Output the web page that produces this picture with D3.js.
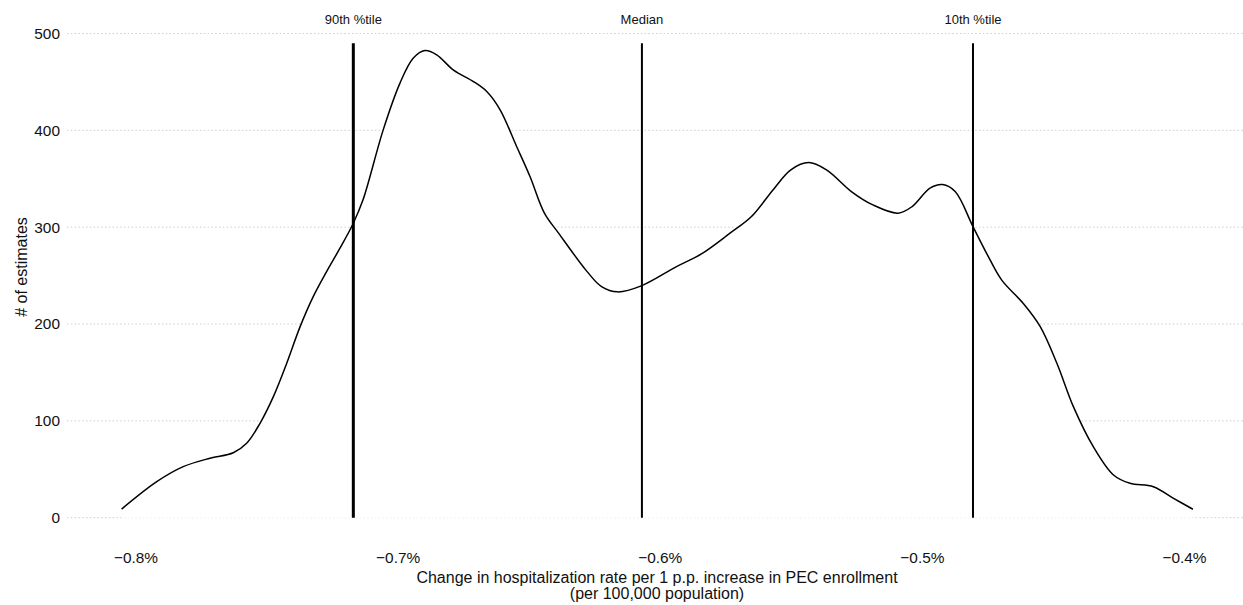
<!DOCTYPE html>
<html>
<head>
<meta charset="utf-8">
<script src="https://cdn.jsdelivr.net/npm/d3@7"></script>
<style>
  html, body { margin: 0; padding: 0; background: #fff; }
  svg { display: block; font-family: "Liberation Sans", Arial, Helvetica, sans-serif; }
</style>
</head>
<body>
<svg id="chart" width="1243" height="605"></svg>
<script>
// Estimate distribution (change in hospitalization rate, %), smoothed density scaled to counts
const densityX = [
  -0.8053, -0.7919, -0.7818, -0.7716, -0.7627, -0.7576, -0.7525, -0.7474, -0.7423, -0.7372,
  -0.7322, -0.7271, -0.7220, -0.7169, -0.7132, -0.7055, -0.6991, -0.6940, -0.6896, -0.6851,
  -0.6788, -0.6711, -0.6660, -0.6609, -0.6546, -0.6495, -0.6440, -0.6386, -0.6277, -0.6222,
  -0.6161, -0.6068, -0.5936, -0.5841, -0.5732, -0.5650, -0.5568, -0.5500, -0.5432, -0.5364,
  -0.5269, -0.5187, -0.5091, -0.5037, -0.4969, -0.4921, -0.4873, -0.4805, -0.4751, -0.4696,
  -0.4614, -0.4549, -0.4485, -0.4422, -0.4346, -0.4269, -0.4206, -0.4117, -0.4040, -0.3966
];
const densityY = [
    8.9,  37.2,  52.7,  61.4,  67.1,  76.9,  97.5, 125.0, 159.5, 197.3,
  228.3, 254.1, 278.3, 304.1, 328.2, 400.5, 448.8, 474.6, 482.4, 478.0,
  462.5, 450.4, 440.1, 421.2, 383.3, 352.3, 314.5, 293.8, 254.1, 238.6,
  233.2, 239.7, 259.3, 272.4, 293.8, 311.0, 338.5, 359.2, 366.7, 359.2,
  336.8, 323.0, 314.5, 321.3, 340.3, 344.0, 336.8, 300.6, 272.0, 245.6,
  221.5, 197.5, 159.5, 114.7,  73.3,  44.1,  35.5,  32.0,  20.0,   8.7
];

// Reference percentiles of the estimates
const percentileNames  = ["90th %tile", "Median", "10th %tile"];
const percentileValues = [-0.7169, -0.6068, -0.4805];
const percentileWidths = [3, 2, 2];
const percentileTop = 490;

// Axis ticks
const xTicks = [-0.8, -0.7, -0.6, -0.5, -0.4];
const yTicks = [0, 100, 200, 300, 400, 500];

const xTitle = ["Change in hospitalization rate per 1 p.p. increase in PEC enrollment",
                "(per 100,000 population)"];
const yTitle = "# of estimates";

const svg = d3.select("#chart");
const x = d3.scaleLinear().domain([-0.8, -0.4]).range([135.5, 1184]);
const y = d3.scaleLinear().domain([0, 500]).range([517.7, 33.5]);

// horizontal grid
svg.append("g")
  .selectAll("line")
  .data(yTicks)
  .join("line")
    .attr("x1", 67).attr("x2", 1243)
    .attr("y1", d => y(d)).attr("y2", d => y(d))
    .attr("stroke", "#cfcfcf")
    .attr("stroke-width", 1)
    .attr("stroke-dasharray", "1.5,2.3");

const pts = densityX.map((d, i) => [d, densityY[i]]);

// white area below the curve hides the grid behind it
svg.append("path")
  .datum(pts)
  .attr("fill", "#fff")
  .attr("d", d3.area()
    .x(d => x(d[0]))
    .y0(y(0))
    .y1(d => y(d[1]))
    .curve(d3.curveCatmullRom.alpha(0.5)));

svg.append("path")
  .datum(pts)
  .attr("fill", "none")
  .attr("stroke", "#000")
  .attr("stroke-width", 1.5)
  .attr("d", d3.line()
    .x(d => x(d[0]))
    .y(d => y(d[1]))
    .curve(d3.curveCatmullRom.alpha(0.5)));

// percentile markers
const pct = svg.append("g");
pct.selectAll("line")
  .data(percentileValues)
  .join("line")
    .attr("x1", d => x(d)).attr("x2", d => x(d))
    .attr("y1", y(0)).attr("y2", y(percentileTop))
    .attr("stroke", "#000")
    .attr("stroke-width", (d, i) => percentileWidths[i]);
pct.selectAll("text")
  .data(percentileValues)
  .join("text")
    .attr("x", d => x(d))
    .attr("y", 23.5)
    .attr("text-anchor", "middle")
    .attr("font-size", 13)
    .attr("fill", "#111")
    .text((d, i) => percentileNames[i]);

// axes
const fmtX = d => d3.format(".1f")(d).replace("-", "\u2212") + "%";
const xAxis = svg.append("g")
  .attr("transform", "translate(0,540)")
  .call(d3.axisBottom(x).tickValues(xTicks).tickFormat(fmtX).tickSize(0).tickPadding(12));
xAxis.select(".domain").remove();
xAxis.selectAll("text").attr("font-size", 15.4).attr("fill", "#111").attr("font-family", null);

const yAxis = svg.append("g")
  .attr("transform", "translate(63,0)")
  .call(d3.axisLeft(y).tickValues(yTicks).tickFormat(d3.format("d")).tickSize(0).tickPadding(3));
yAxis.select(".domain").remove();
yAxis.selectAll("text").attr("font-size", 15.4).attr("fill", "#111").attr("font-family", null);

// axis titles
svg.append("text")
  .attr("text-anchor", "middle")
  .attr("font-size", 16)
  .attr("fill", "#111")
  .selectAll("tspan")
  .data(xTitle)
  .join("tspan")
    .attr("x", 657)
    .attr("y", (d, i) => 582.5 + i * 16)
    .text(d => d);

svg.append("text")
  .attr("transform", "translate(26.5,267) rotate(-90)")
  .attr("text-anchor", "middle")
  .attr("font-size", 16)
  .attr("fill", "#111")
  .text(yTitle);
</script>
</body>
</html>
